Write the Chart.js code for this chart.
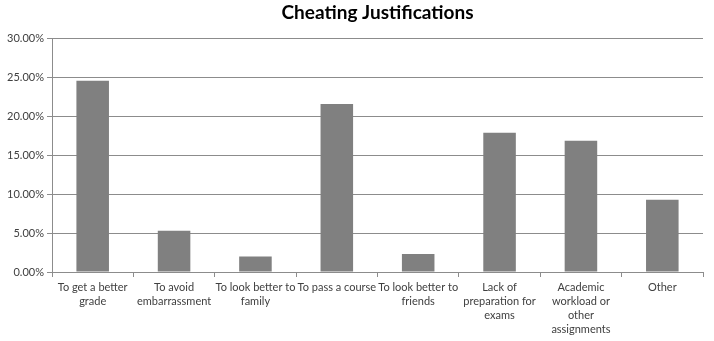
<!DOCTYPE html>
<html>
<head>
<meta charset="utf-8">
<script src="https://cdn.jsdelivr.net/npm/chart.js@4/dist/chart.umd.min.js"></script>
<style>
  html, body { margin: 0; padding: 0; background: #fff; }
  #wrap { width: 714px; height: 341px; }
</style>
</head>
<body>
<div id="wrap"><canvas id="chart" width="714" height="341"></canvas></div>
<script>
const CATEGORIES = [
  ['To get a better', 'grade'],
  ['To avoid', 'embarrassment'],
  ['To look better to', 'family'],
  'To pass a course',
  ['To look better to', 'friends'],
  ['Lack of', 'preparation for', 'exams'],
  ['Academic', 'workload or', 'other', 'assignments'],
  'Other',
];
const SHARES = [24.6, 5.3, 2.0, 21.6, 2.3, 17.9, 16.9, 9.3];
const Y_MAX = 30;
const Y_STEP = 5;

const textColor = '#404040';
const lineColor = '#8c8c8c';
const font = "Lato, 'Liberation Sans', sans-serif";

const ctx = document.getElementById('chart');
new Chart(ctx, {
  type: 'bar',
  data: {
    labels: CATEGORIES,
    datasets: [{
      label: 'Share',
      data: SHARES,
      backgroundColor: '#808080',
      barPercentage: 0.4,
      categoryPercentage: 1.0,
    }],
  },
  options: {
    responsive: false,
    animation: false,
    layout: { padding: { left: 0, right: 11, top: 1, bottom: 2 } },
    plugins: {
      legend: { display: false },
      tooltip: { enabled: false },
      title: {
        display: true,
        fullSize: false,
        text: 'Cheating Justifications',
        color: '#000',
        font: { family: font, size: 19, weight: 'bold' },
        padding: { top: 0, bottom: 15 },
      },
    },
    scales: {
      x: {
        grid: {
          offset: true,
          drawOnChartArea: false,
          drawTicks: true,
          tickLength: 5,
          color: lineColor,
        },
        border: { color: lineColor },
        ticks: {
          color: textColor,
          font: { family: font, size: 11, lineHeight: '14px' },
          maxRotation: 0,
          autoSkip: false,
          padding: 3,
        },
      },
      y: {
        min: 0,
        max: Y_MAX,
        afterFit: (axis) => { axis.width = 52; },
        grid: { color: lineColor, tickLength: 5 },
        border: { color: lineColor },
        ticks: {
          stepSize: Y_STEP,
          color: textColor,
          font: { family: font, size: 11 },
          padding: 3,
          callback: (v) => v.toFixed(2) + '%',
        },
      },
    },
  },
});
</script>
</body>
</html>
